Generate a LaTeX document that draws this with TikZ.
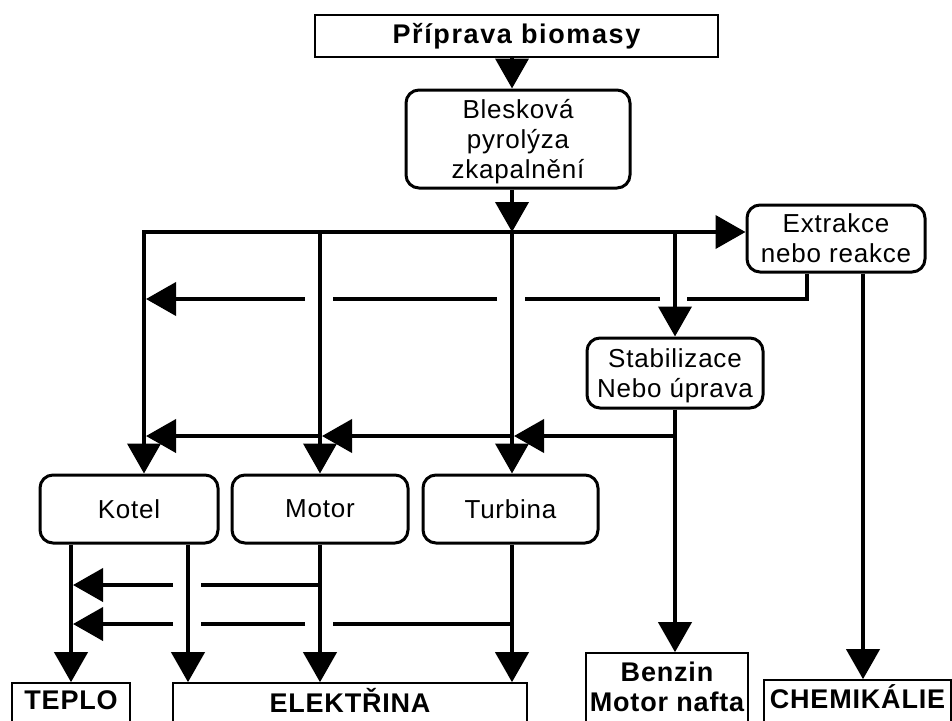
\documentclass[tikz,border=0pt]{standalone}
\usepackage{fontspec}
\setmainfont{Liberation Sans}
\newfontfamily\regf[LetterSpace=3]{Liberation Sans}
\newfontfamily\boldf[LetterSpace=3]{Liberation Sans}
\newfontfamily\titf[LetterSpace=6]{Liberation Sans}
\usetikzlibrary{arrows.meta}
\tikzset{
  conn/.style={line width=4pt, line join=miter},
  arr/.style={conn, ->},
  rbox/.style={draw, line width=3pt, rounded corners=13pt, inner sep=0pt, align=center,
    font=\regf\fontsize{26}{30}\selectfont, text depth=0pt},
  obox/.style={draw, line width=1.6pt, inner sep=0pt, align=center,
    font=\boldf\bfseries\fontsize{27}{30}\selectfont},
}
\begin{document}
\begin{tikzpicture}[x=1pt,y=-1pt, >={Triangle[length=30pt,width=33pt]}]
\clip (0,0) rectangle (952,720);
% column coordinates
\coordinate (cK) at (144,0);
\coordinate (cM) at (320,0);
\coordinate (cT) at (512,0);
\coordinate (cS) at (675,0);
\coordinate (cE) at (807,0);
\coordinate (cC) at (863,0);
\coordinate (dL) at (71,0);
\coordinate (dR) at (188,0);
% row coordinates
\coordinate (bus) at (0,232);
\coordinate (r2) at (0,299);
\coordinate (r3) at (0,436);
\coordinate (r4) at (0,585);
\coordinate (r5) at (0,624);
% nodes
\node[obox, font=\titf\bfseries\fontsize{27}{30}\selectfont, minimum width=403pt, minimum height=42pt] (prep) at (516.5,36) {Příprava biomasy};
\node[rbox, minimum width=224pt, minimum height=98pt] (bles) at (518,139) {Blesková\\pyrolýza\\zkapalnění};
\node[rbox, minimum width=178pt, minimum height=67pt] (ext) at (836,238.5) {Extrakce\\nebo reakce};
\node[rbox, minimum width=176pt, minimum height=70pt] (stab) at (675,373) {Stabilizace\\Nebo úprava};
\node[rbox, minimum width=178pt, minimum height=68pt] (kotel) at (129,509) {Kotel};
\node[rbox, minimum width=176pt, minimum height=68pt] (motor) at (320,509) {Motor};
\node[rbox, minimum width=175pt, minimum height=68pt] (turb) at (510.5,509) {Turbina};
\node[obox, minimum width=118pt, minimum height=44pt, text depth=10pt] (teplo) at (71,705) {TEPLO};
\node[obox, minimum width=354pt, minimum height=44pt, text depth=10pt] (elek) at (350,705) {ELEKTŘINA};
\node[obox, minimum width=162pt, minimum height=74pt, text depth=6pt] (benz) at (667,690) {Benzin\\Motor nafta};
\node[obox, minimum width=187pt, minimum height=44pt, text depth=10pt] (chem) at (857.5,702) {CHEMIKÁLIE};
% top
\draw[arr] (prep.south -| cT) -- (bles.north -| cT);
\draw[arr] (bles.south -| cT) -- (cT |- bus);
% bus
\draw[conn, <->] (kotel.north -| cK) -- (cK |- bus) -- (bus -| ext.west);
\draw[arr] (cM |- bus) -- (motor.north -| cM);
\draw[arr] (cT |- bus) -- (turb.north -| cT);
\draw[arr] (cS |- bus) -- (stab.north -| cS);
% return line from extraction
\draw[conn] (ext.south -| cE) -- (cE |- r2) -- ([xshift=12pt]cS |- r2);
\draw[conn] ([xshift=-15pt]cS |- r2) -- ([xshift=13pt]cT |- r2);
\draw[conn] ([xshift=-15pt]cT |- r2) -- ([xshift=13pt]cM |- r2);
\draw[arr, shorten >=2pt] ([xshift=-15pt]cM |- r2) -- (cK |- r2);
% stabilised oil line
\draw[arr] (stab.south -| cS) -- (benz.north -| cS);
\draw[arr, shorten >=2pt] (cS |- r3) -- (cT |- r3);
\draw[arr, shorten >=2pt] (cT |- r3) -- (cM |- r3);
\draw[arr, shorten >=2pt] (cM |- r3) -- (cK |- r3);
% chemicals
\draw[arr] (ext.south -| cC) -- (chem.north -| cC);
% outputs
\draw[arr] (kotel.south -| dL) -- (teplo.north -| dL);
\draw[arr] (kotel.south -| dR) -- (elek.north -| dR);
\draw[arr] (motor.south -| cM) -- (elek.north -| cM);
\draw[arr] (turb.south -| cT) -- (elek.north -| cT);
\draw[conn] (cM |- r4) -- ([xshift=13pt]dR |- r4);
\draw[arr, shorten >=2pt] ([xshift=-15pt]dR |- r4) -- (dL |- r4);
\draw[conn] (cT |- r5) -- ([xshift=13pt]cM |- r5);
\draw[conn] ([xshift=-15pt]cM |- r5) -- ([xshift=13pt]dR |- r5);
\draw[arr, shorten >=2pt] ([xshift=-15pt]dR |- r5) -- (dL |- r5);
\end{tikzpicture}
\end{document}
